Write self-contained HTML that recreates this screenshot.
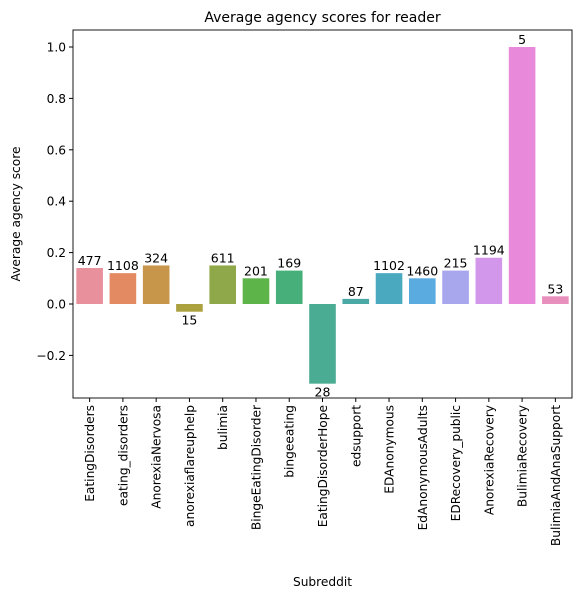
<!DOCTYPE html>
<html><head><meta charset="utf-8"><style>body{margin:0;background:#fff}svg text{font-family:"DejaVu Sans","Liberation Sans",sans-serif}</style></head>
<body>
<svg id="chart" width="579" height="600"></svg>
<script>
const categories=["EatingDisorders","eating_disorders","AnorexiaNervosa","anorexiaflareuphelp","bulimia","BingeEatingDisorder","bingeeating","EatingDisorderHope","edsupport","EDAnonymous","EdAnonymousAdults","EDRecovery_public","AnorexiaRecovery","BulimiaRecovery","BulimiaAndAnaSupport"];
const values=[0.14,0.12,0.15,-0.03,0.15,0.10,0.13,-0.31,0.02,0.12,0.10,0.13,0.18,1.0,0.03];
const counts=[477,1108,324,15,611,201,169,28,87,1102,1460,215,1194,5,53];
const yTicks=[-0.2,0.0,0.2,0.4,0.6,0.8,1.0];
const colors=["#e8909c","#e38a62","#c8964a","#aba13f","#8fa84a","#5db54a","#47b07a","#4aac93","#4aa9a4","#4aa8bf","#5aabe0","#a8a6ec","#d296ea","#e88ad9","#e98fbd"];
const svg=document.getElementById('chart');const NS="http://www.w3.org/2000/svg";
const L=73,R=572,T=30,B=398;
const y=v=>304-v*257;
const step=(R-L)/categories.length;
const x=i=>L+step*(i+0.5);
function mk(t,a,txt){const e=document.createElementNS(NS,t);for(const k in a)e.setAttribute(k,a[k]);if(txt!=null)e.textContent=txt;svg.appendChild(e);return e;}
categories.forEach((c,i)=>{
const v=values[i];const top=Math.min(y(v),y(0)),h=Math.abs(y(v)-y(0));
const b=mk('rect',{x:x(i)-step*0.4,y:top,width:step*0.8,height:h,fill:colors[i]});


const ly=v>=0?y(v)-3:y(v)+13;
const t=mk('text',{x:x(i),y:ly,'text-anchor':'middle','font-size':'12.5'},counts[i]);


mk('line',{x1:x(i),x2:x(i),y1:B,y2:B+4,stroke:'#000'});
const tl=mk('text',{transform:`translate(${x(i)+4.5},${B+7}) rotate(-90)`,'text-anchor':'end','font-size':'12.2'},c);


});
yTicks.forEach(v=>{
mk('line',{x1:L-4,x2:L,y1:y(v),y2:y(v),stroke:'#000'});
const t=mk('text',{x:L-7,y:y(v)+4.5,'text-anchor':'end','font-size':'12.2'},(v<0?'\u2212':'')+Math.abs(v).toFixed(1));


});
const f=mk('rect',{x:L,y:T,width:R-L,height:B-T,fill:'none',stroke:'#000','stroke-width':'0.9'});


const tt=mk('text',{x:(L+R)/2,y:22,'text-anchor':'middle','font-size':'14'},'Average agency scores for reader');


const xt=mk('text',{x:(L+R)/2,y:586,'text-anchor':'middle','font-size':'12.2'},'Subreddit');


const yt=mk('text',{transform:`translate(20,${(T+B)/2}) rotate(-90)`,'text-anchor':'middle','font-size':'12.2'},'Average agency score');


</script>
</body></html>
